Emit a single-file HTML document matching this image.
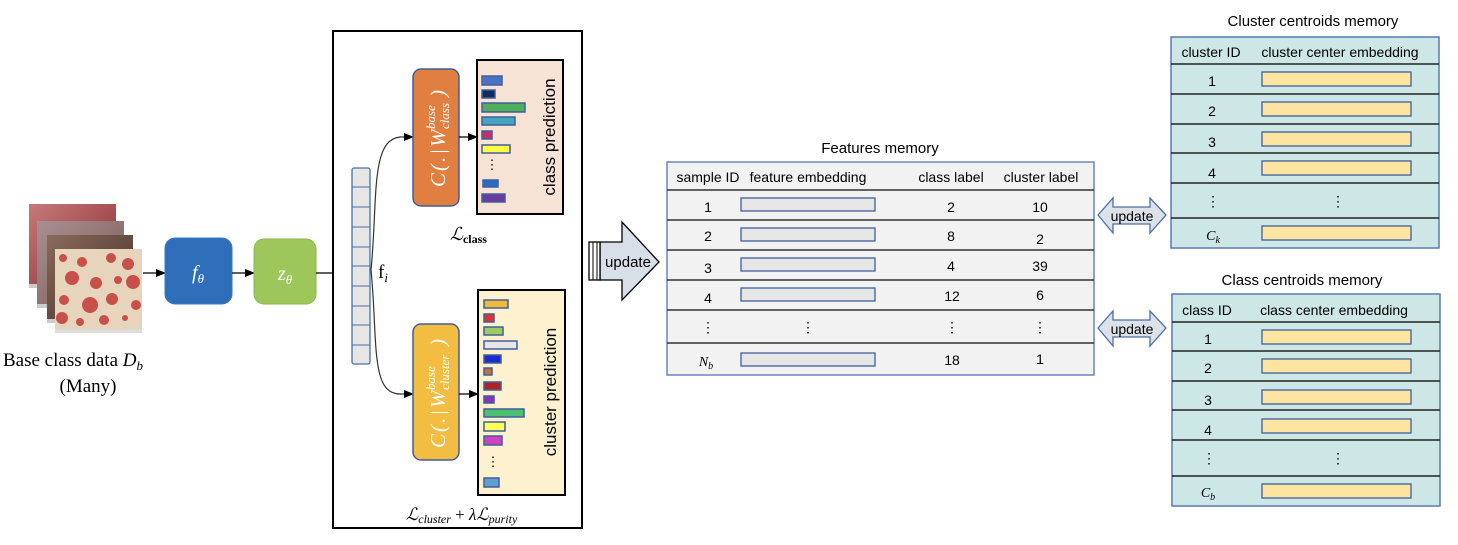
<!DOCTYPE html>
<html><head><meta charset="utf-8"><style>
html,body{margin:0;padding:0;background:#fff;}
svg text{font-family:"Liberation Sans",Arial,sans-serif;}
.serif{font-family:"Liberation Serif",serif;}
</style></head><body>
<svg width="1458" height="540" viewBox="0 0 1458 540" xmlns="http://www.w3.org/2000/svg">
<defs>
<marker id="ah" markerWidth="10" markerHeight="8" refX="9" refY="4" orient="auto" markerUnits="userSpaceOnUse"><path d="M0,0 L10,4 L0,8 z" fill="#000"/></marker>
<linearGradient id="g1" x1="0" y1="0" x2="1" y2="1"><stop offset="0" stop-color="#c67a7a"/><stop offset="1" stop-color="#8a2a30"/></linearGradient>
<linearGradient id="g2" x1="0" y1="0" x2="1" y2="1"><stop offset="0" stop-color="#a89090"/><stop offset="1" stop-color="#7a5a55"/></linearGradient>
<linearGradient id="g3" x1="0" y1="0" x2="1" y2="1"><stop offset="0" stop-color="#8a6a5a"/><stop offset="0.7" stop-color="#5a4038"/><stop offset="1" stop-color="#111"/></linearGradient>
</defs>
<!-- images -->
<rect x="29" y="204" width="87" height="80" fill="url(#g1)"/><rect x="29" y="284" width="87" height="4" fill="#ccc"/>
<rect x="37" y="221" width="87" height="83" fill="url(#g2)"/><rect x="37" y="304" width="87" height="4" fill="#ccc"/>
<rect x="47" y="235" width="86" height="84" fill="url(#g3)"/><rect x="47" y="319" width="86" height="4" fill="#ccc"/>
<rect x="55" y="249" width="87" height="80" fill="#e6d4bc"/><rect x="55" y="329" width="87" height="4" fill="#ddd"/>
<g fill="#c8504a">
<circle cx="63" cy="258" r="4"/><circle cx="82" cy="262" r="5"/><circle cx="111" cy="258" r="5"/><circle cx="128" cy="264" r="6"/>
<circle cx="72" cy="278" r="7"/><circle cx="96" cy="283" r="6"/><circle cx="133" cy="282" r="7"/><circle cx="118" cy="280" r="4"/>
<circle cx="64" cy="300" r="5"/><circle cx="90" cy="305" r="8"/><circle cx="112" cy="299" r="6"/><circle cx="80" cy="322" r="4"/>
<circle cx="136" cy="305" r="5"/><circle cx="104" cy="320" r="5"/><circle cx="125" cy="318" r="3"/><circle cx="62" cy="318" r="6"/>
</g>
<line x1="143" y1="273" x2="165" y2="273" stroke="#000" stroke-width="1.3" marker-end="url(#ah)"/>
<rect x="165" y="238" width="67" height="66" rx="10" fill="#2f6fba" stroke="#3a78c0"/>
<text x="198" y="279" class="serif" font-size="20" font-style="italic" fill="#fff" text-anchor="middle">f<tspan font-size="13" dy="4">θ</tspan></text>
<line x1="232" y1="273" x2="254" y2="273" stroke="#000" stroke-width="1.3" marker-end="url(#ah)"/>
<rect x="254" y="239" width="62" height="65" rx="10" fill="#9dc75b" stroke="#8ab84a"/>
<text x="285" y="280" class="serif" font-size="20" font-style="italic" fill="#fff" text-anchor="middle">z<tspan font-size="13" dy="4">θ</tspan></text>
<line x1="316" y1="273" x2="351" y2="273" stroke="#000" stroke-width="1.3" marker-end="url(#ah)"/>
<text x="73" y="366" class="serif" font-size="19" text-anchor="middle">Base class data <tspan font-style="italic">D</tspan><tspan font-style="italic" font-size="13" dy="4">b</tspan></text>
<text x="88" y="392" class="serif" font-size="19" text-anchor="middle">(Many)</text>

<!-- big box -->
<rect x="333" y="31" width="249" height="497" fill="#fff" stroke="#000" stroke-width="2"/>
<rect x="352" y="168" width="18" height="196" rx="2" fill="#e6e6e6" stroke="#4a6fa5" stroke-width="1.3"/>
<g stroke="#4a6fa5" stroke-width="1">
<line x1="352" y1="187" x2="370" y2="187"/><line x1="352" y1="207" x2="370" y2="207"/><line x1="352" y1="227" x2="370" y2="227"/><line x1="352" y1="247" x2="370" y2="247"/><line x1="352" y1="266" x2="370" y2="266"/><line x1="352" y1="286" x2="370" y2="286"/><line x1="352" y1="306" x2="370" y2="306"/><line x1="352" y1="325" x2="370" y2="325"/><line x1="352" y1="345" x2="370" y2="345"/>
</g>
<text x="378" y="278" class="serif" font-size="19">f<tspan font-style="italic" font-size="13" dy="4">i</tspan></text>
<path d="M371,270 C378,200 370,140 400,137 L413,137" fill="none" stroke="#333" stroke-width="1.2" marker-end="url(#ah)"/>
<path d="M371,270 C378,340 370,394 400,394 L413,394" fill="none" stroke="#333" stroke-width="1.2" marker-end="url(#ah)"/>
<rect x="413" y="69" width="46" height="137" rx="8" fill="#e07f40" stroke="#3f5f9a" stroke-width="1.5"/>
<g transform="translate(437,137) rotate(-90)" class="serif" font-style="italic" fill="#fff">
<text x="-50" y="8" font-size="21" class="serif" letter-spacing="2">C(.|W</text>
<text x="8" y="-2" font-size="13" class="serif">base</text>
<text x="8" y="12" font-size="13" class="serif">class</text>
<text x="40" y="8" font-size="21" class="serif">)</text>
</g>
<rect x="413" y="324" width="46" height="136" rx="8" fill="#f3bd42" stroke="#3f5f9a" stroke-width="1.5"/>
<g transform="translate(437,392) rotate(-90)" fill="#fff">
<text x="-56" y="8" font-size="21" class="serif" font-style="italic" letter-spacing="2">C(.|W</text>
<text x="2" y="-2" font-size="13" class="serif" font-style="italic">base</text>
<text x="2" y="12" font-size="13" class="serif" font-style="italic">cluster</text>
<text x="46" y="8" font-size="21" class="serif" font-style="italic">)</text>
</g>
<line x1="459" y1="137" x2="477" y2="137" stroke="#000" stroke-width="1.3" marker-end="url(#ah)"/>
<line x1="459" y1="394" x2="478" y2="394" stroke="#000" stroke-width="1.3" marker-end="url(#ah)"/>
<rect x="477" y="60" width="86" height="154" fill="#f7e3d6" stroke="#000" stroke-width="2"/>
<g stroke="#3f5f9a" stroke-width="1.5">
<rect x="482" y="76" width="20" height="9" fill="#4a72c0"/><rect x="482" y="90" width="13" height="8" fill="#0e2a5e"/>
<rect x="482" y="103" width="43" height="9" fill="#4fae5a"/><rect x="482" y="117" width="33" height="8" fill="#45a5c0"/>
<rect x="482" y="131" width="10" height="8" fill="#c0306a"/><rect x="482" y="145" width="28" height="8" fill="#ffff44"/>
<rect x="483" y="180" width="15" height="7" fill="#2a6ac0"/><rect x="482" y="194" width="23" height="8" fill="#6a3aa0"/>
</g>
<text x="492" y="169" font-size="13" text-anchor="middle">⋮</text>
<text transform="translate(555,137) rotate(-90)" font-size="17" text-anchor="middle">class prediction</text>
<text x="450" y="240" class="serif" font-size="18" font-style="italic">ℒ<tspan font-style="normal" font-weight="bold" font-size="12" dy="3">class</tspan></text>
<rect x="478" y="290" width="87" height="205" fill="#fdf1cf" stroke="#000" stroke-width="2"/>
<g stroke="#3f5f9a" stroke-width="1.5">
<rect x="484" y="300" width="24" height="8" fill="#f0b93a"/><rect x="484" y="314" width="10" height="8" fill="#e03030"/>
<rect x="484" y="327" width="19" height="8" fill="#9ccb5e"/><rect x="484" y="341" width="33" height="8" fill="#e6e6e6"/>
<rect x="484" y="355" width="17" height="8" fill="#1a2ecf"/><rect x="484" y="368" width="8" height="7" fill="#c0703a"/>
<rect x="484" y="382" width="17" height="8" fill="#b22222"/><rect x="484" y="396" width="10" height="7" fill="#8b30c0"/>
<rect x="484" y="409" width="40" height="8" fill="#4cbf70"/><rect x="484" y="422" width="21" height="9" fill="#ffff55"/>
<rect x="484" y="436" width="18" height="9" fill="#d040c0"/><rect x="484" y="478" width="15" height="9" fill="#5fa0d0"/>
</g>
<text x="493" y="466" font-size="13" text-anchor="middle">⋮</text>
<text transform="translate(556,392) rotate(-90)" font-size="17" text-anchor="middle">cluster prediction</text>
<text x="406" y="520" class="serif" font-size="17" font-style="italic">ℒ<tspan font-size="12" dy="3">cluster</tspan><tspan font-style="normal" dy="-3"> + </tspan>λℒ<tspan font-size="12" dy="3">purity</tspan></text>

<!-- update arrow -->
<path d="M600,242 L622,242 L622,222 L659,262 L622,300 L622,280 L600,280 z" fill="#d9dfe8" stroke="#000" stroke-width="1.3"/>
<rect x="589" y="242" width="11" height="38" fill="#fff" stroke="#000" stroke-width="1.3"/>
<line x1="593" y1="242" x2="593" y2="280" stroke="#000"/><line x1="597" y1="242" x2="597" y2="280" stroke="#000"/>
<text x="628" y="267" font-size="15" text-anchor="middle">update</text>

<!-- features memory -->
<text x="880" y="153" font-size="15" text-anchor="middle">Features memory</text>
<rect x="667" y="162" width="427" height="213" fill="#f2f2f2" stroke="#6a86b8" stroke-width="1.5"/>
<g stroke="#333" stroke-width="1.5">
<line x1="667" y1="190" x2="1094" y2="190"/><line x1="667" y1="220" x2="1094" y2="220"/><line x1="667" y1="250" x2="1094" y2="250"/><line x1="667" y1="280" x2="1094" y2="280"/><line x1="667" y1="310" x2="1094" y2="310"/><line x1="667" y1="343" x2="1094" y2="343"/>
</g>
<g font-size="14" text-anchor="middle">
<text x="708" y="182">sample ID</text><text x="808" y="182">feature embedding</text><text x="951" y="182">class label</text><text x="1041" y="182">cluster label</text>
<text x="708" y="212">1</text><text x="951" y="212">2</text><text x="1040" y="212">10</text>
<text x="708" y="241">2</text><text x="951" y="241">8</text><text x="1040" y="244">2</text>
<text x="708" y="273">3</text><text x="951" y="271">4</text><text x="1040" y="271">39</text>
<text x="708" y="303">4</text><text x="952" y="301">12</text><text x="1040" y="300">6</text>
<text x="708" y="332">⋮</text><text x="808" y="332">⋮</text><text x="952" y="332">⋮</text><text x="1040" y="332">⋮</text>
<text x="706" y="366" class="serif" font-style="italic">N<tspan font-size="10" dy="3">b</tspan></text><text x="952" y="365">18</text><text x="1040" y="364">1</text>
</g>
<g fill="#e6e6e6" stroke="#3f5f9a" stroke-width="1.3">
<rect x="741" y="198" width="134" height="13"/><rect x="741" y="228" width="134" height="13"/><rect x="741" y="258" width="134" height="13"/><rect x="741" y="288" width="134" height="13"/><rect x="741" y="353" width="134" height="13"/>
</g>

<!-- double arrows -->
<g fill="#dde1e8" stroke="#4a6fa5" stroke-width="1.3">
<path d="M1098,215 L1113,198 L1113,207 L1150,207 L1150,198 L1166,215 L1150,233 L1150,224 L1113,224 L1113,233 z"/>
<path d="M1098,328 L1113,311 L1113,320 L1150,320 L1150,311 L1166,328 L1150,346 L1150,337 L1113,337 L1113,346 z"/>
</g>
<text x="1132" y="221" font-size="14" text-anchor="middle">update</text>
<text x="1132" y="334" font-size="14" text-anchor="middle">update</text>

<!-- cluster centroids -->
<text x="1313" y="26" font-size="15" text-anchor="middle">Cluster centroids memory</text>
<rect x="1171" y="37" width="268" height="211" fill="#cde7e6" stroke="#5a7ab0" stroke-width="1.5"/>
<g stroke="#222" stroke-width="1.5">
<line x1="1171" y1="64" x2="1439" y2="64"/><line x1="1171" y1="94" x2="1439" y2="94"/><line x1="1171" y1="124" x2="1439" y2="124"/><line x1="1171" y1="153" x2="1439" y2="153"/><line x1="1171" y1="183" x2="1439" y2="183"/><line x1="1171" y1="218" x2="1439" y2="218"/>
</g>
<g font-size="14" text-anchor="middle">
<text x="1211" y="57">cluster ID</text><text x="1340" y="57">cluster center embedding</text>
<text x="1212" y="86">1</text><text x="1212" y="116">2</text><text x="1212" y="147">3</text><text x="1212" y="178">4</text>
<text x="1213" y="206">⋮</text><text x="1338" y="206">⋮</text>
<text x="1213" y="240" class="serif" font-style="italic">C<tspan font-size="10" dy="3">k</tspan></text>
</g>
<g fill="#fde4a0" stroke="#3f5f9a" stroke-width="1.3">
<rect x="1262" y="72" width="149" height="14"/><rect x="1262" y="102" width="149" height="14"/><rect x="1262" y="132" width="149" height="14"/><rect x="1262" y="161" width="149" height="14"/><rect x="1262" y="226" width="149" height="14"/>
</g>

<!-- class centroids -->
<text x="1302" y="285" font-size="15" text-anchor="middle">Class centroids memory</text>
<rect x="1172" y="294" width="268" height="212" fill="#cde7e6" stroke="#5a7ab0" stroke-width="1.5"/>
<g stroke="#222" stroke-width="1.5">
<line x1="1172" y1="322" x2="1440" y2="322"/><line x1="1172" y1="351" x2="1440" y2="351"/><line x1="1172" y1="381" x2="1440" y2="381"/><line x1="1172" y1="410" x2="1440" y2="410"/><line x1="1172" y1="440" x2="1440" y2="440"/><line x1="1172" y1="476" x2="1440" y2="476"/>
</g>
<g font-size="14" text-anchor="middle">
<text x="1207" y="315">class ID</text><text x="1334" y="315">class center embedding</text>
<text x="1208" y="344">1</text><text x="1208" y="373">2</text><text x="1208" y="405">3</text><text x="1208" y="435">4</text>
<text x="1209" y="463">⋮</text><text x="1338" y="463">⋮</text>
<text x="1208" y="497" class="serif" font-style="italic">C<tspan font-size="10" dy="3">b</tspan></text>
</g>
<g fill="#fde4a0" stroke="#3f5f9a" stroke-width="1.3">
<rect x="1262" y="330" width="149" height="14"/><rect x="1262" y="359" width="149" height="14"/><rect x="1262" y="390" width="149" height="14"/><rect x="1262" y="419" width="149" height="14"/><rect x="1262" y="484" width="149" height="14"/>
</g>
</svg>
</body></html>
